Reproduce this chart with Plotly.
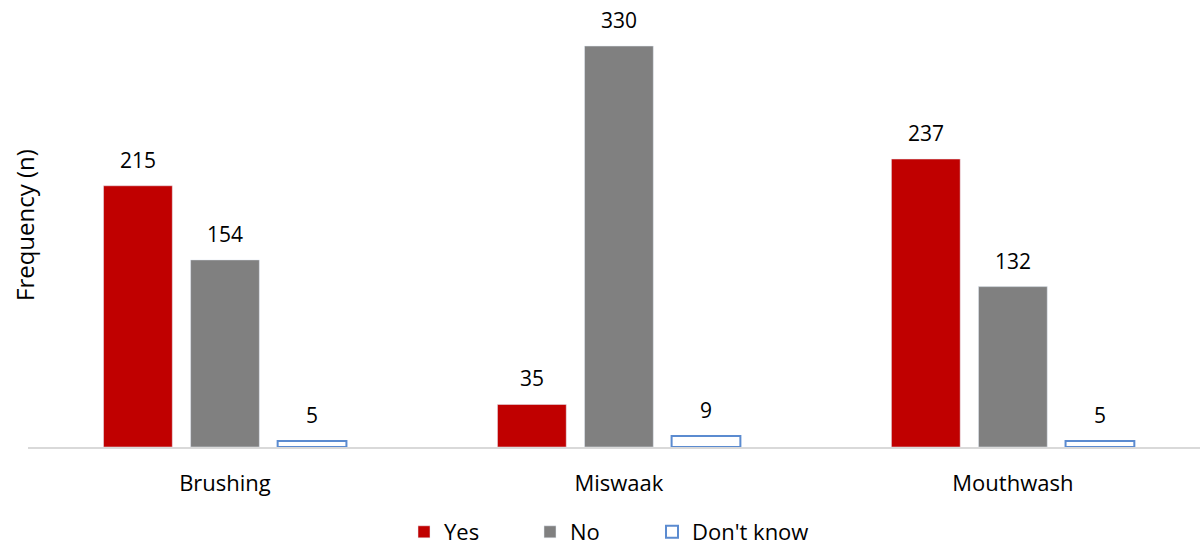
import plotly.graph_objects as go

categories = ["Brushing", "Miswaak", "Mouthwash"]
yes_vals = [215, 35, 237]
no_vals = [154, 330, 132]
dk_vals = [5, 9, 5]

series_names = ["Yes", "No", "Don't know"]
series_vals = [yes_vals, no_vals, dk_vals]

font_family = "Open Sans, Noto Sans, sans-serif"
BARGAP = 0.337
BARGROUPGAP = 0.21

fig = go.Figure()
fig.add_trace(go.Bar(name="Yes", x=categories, y=yes_vals, marker=dict(color="#C00000"),
                     legend="legend"))
fig.add_trace(go.Bar(name="No", x=categories, y=no_vals, marker=dict(color="#808080"),
                     legend="legend2"))
fig.add_trace(go.Bar(name="Don't know", x=categories, y=dk_vals,
                     marker=dict(color="white", line=dict(color="#5B8BD0", width=2)),
                     legend="legend3"))

# value labels, placed at each bar's centre (derived from the group layout)
n_series = len(series_vals)
slot = (1 - BARGAP) / n_series
annotations = []
for i, vals in enumerate(series_vals):
    offset = (i - (n_series - 1) / 2) * slot
    for j, v in enumerate(vals):
        annotations.append(dict(
            x=j + offset, y=v, xref="x", yref="y", text=str(v), showarrow=False,
            xanchor="center", yanchor="bottom", yshift=10,
            font=dict(size=21, color="#000000", family=font_family)))

annotations.append(dict(text="Frequency (n)", textangle=-90, xref="paper", yref="paper",
                        x=(24 - 28) / 1172, y=(447 - 225) / 417, xanchor="center",
                        yanchor="middle", showarrow=False, font=dict(size=24)))

leg_common = dict(orientation="h", xanchor="left", xref="container",
                  y=14 / 546, yanchor="middle", yref="container",
                  font=dict(size=22), itemwidth=30)

fig.update_layout(
    width=1203, height=546,
    margin=dict(l=28, r=3, t=30, b=99, autoexpand=False),
    plot_bgcolor="white", paper_bgcolor="white",
    barmode="group", bargap=BARGAP, bargroupgap=BARGROUPGAP,
    font=dict(family=font_family, size=21, color="#000000"),
    showlegend=True,
    legend=dict(x=404 / 1203, **leg_common),
    legend2=dict(x=530 / 1203, **leg_common),
    legend3=dict(x=652 / 1203, **leg_common),
    xaxis=dict(range=[-0.5, 2.475], showline=True, linecolor="#D9D9D9", linewidth=1.5,
               ticks="outside", ticklen=16, tickcolor="rgba(0,0,0,0)",
               tickfont=dict(size=22), automargin=False),
    yaxis=dict(range=[0, 343.2], showgrid=False, showticklabels=False, zeroline=False,
               showline=False, automargin=False),
    annotations=annotations,
)

fig.write_html("out.html")
